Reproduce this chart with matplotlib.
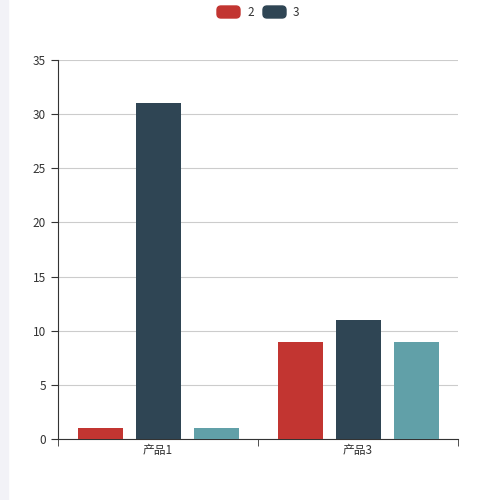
import matplotlib
matplotlib.use("Agg")
import matplotlib.pyplot as plt
from matplotlib.patches import Rectangle, FancyBboxPatch
import numpy as np

plt.rcParams['font.family'] = ['Noto Sans CJK SC', 'DejaVu Sans']

categories = ['产品1', '产品3']
s2 = [1, 9]
s3 = [31, 11]
s4 = [1, 9]
colors = ['#c23531', '#2f4554', '#61a0a8']

fig = plt.figure(figsize=(5, 5), dpi=100)
fig.patches.append(Rectangle((0, 0), 8/500, 1, transform=fig.transFigure, color='#f2f2f7', zorder=0))
ax = fig.add_axes([0.116, 0.122, 0.8, 0.758])
x = np.arange(len(categories))
w = 0.225
off = 0.29
for i, (vals, c) in enumerate(zip([s2, s3, s4], colors)):
    ax.bar(x + (i - 1) * off, vals, w, color=c, zorder=3)
ax.set_xlim(-0.5, 1.5)
ax.set_ylim(0, 35)
ax.set_yticks(range(0, 36, 5))
ax.set_xticks(x)
ax.set_xticklabels(categories)
ax.set_xticks([-0.5, 0.5, 1.5], minor=True)
ax.tick_params(axis='x', which='major', length=0)
ax.tick_params(axis='x', which='minor', length=5, color='#333333')
ax.tick_params(axis='y', length=5, color='#333333')
ax.tick_params(labelsize=8.5, colors='#333333')
ax.grid(axis='y', color='#cccccc', lw=0.8, zorder=0)
for s in ['top', 'right']:
    ax.spines[s].set_visible(False)
for s in ['left', 'bottom']:
    ax.spines[s].set_color('#333333')

legend_names = ['2', '3']
lx = [217, 263]
for name, c, px in zip(legend_names, colors[:2], lx):
    fig.patches.append(FancyBboxPatch((px/500, 1-18/500), 23/500, 12/500,
        boxstyle='round,pad=0,rounding_size=0.008', transform=fig.transFigure, color=c))
    fig.text((px+30)/500, 1-12/500, name, fontsize=8.5, color='#333333', va='center')

fig.savefig('out.png')
